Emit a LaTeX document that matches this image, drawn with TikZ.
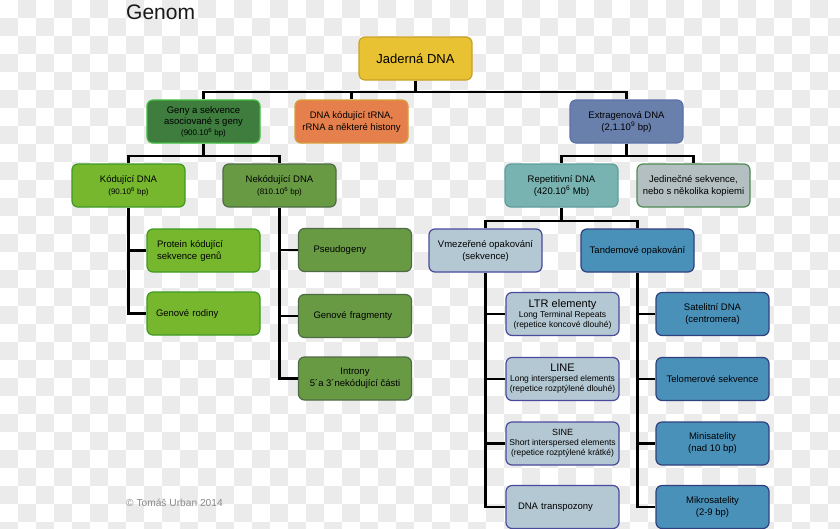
\documentclass[tikz,border=0pt]{standalone}
\usepackage{fontspec}
\setmainfont{Liberation Sans}
\definecolor{ckgray}{HTML}{EBEBEB}
\definecolor{jadF}{HTML}{E8C232}\definecolor{jadD}{HTML}{C9A12A}
\definecolor{genyF}{HTML}{3F7D3F}\definecolor{genyD}{HTML}{40BD40}
\definecolor{trnaF}{HTML}{E5804D}\definecolor{trnaD}{HTML}{D4A03A}
\definecolor{extF}{HTML}{6A80AC}\definecolor{extD}{HTML}{5B72A8}
\definecolor{kodF}{HTML}{77B72E}\definecolor{kodD}{HTML}{3D9A22}
\definecolor{nekF}{HTML}{689A44}\definecolor{nekD}{HTML}{4F6B45}
\definecolor{repF}{HTML}{79B3B1}\definecolor{repD}{HTML}{5E9E9C}
\definecolor{jedF}{HTML}{B3BFC0}\definecolor{jedD}{HTML}{4F8A52}
\definecolor{vmzF}{HTML}{B4C8D3}\definecolor{vmzD}{HTML}{4A4A9C}
\definecolor{tanF}{HTML}{4A91BA}\definecolor{tanD}{HTML}{30407F}
\definecolor{copyGray}{HTML}{8A8A8A}
\begin{document}
\begin{tikzpicture}[x=1pt,y=-1pt,
  box/.style={draw, rounded corners=6pt, minimum width=113pt, minimum height=43pt,
    inner sep=0pt, line width=1.2pt, align=center, text=black,
    font=\fontsize{9.5}{12}\selectfont},
  gbox/.style={box, fill=genyF, draw=genyD},
  kbox/.style={box, fill=kodF, draw=kodD},
  nbox/.style={box, fill=nekF, draw=nekD},
  vbox/.style={box, fill=vmzF, draw=vmzD},
  tbox/.style={box, fill=tanF, draw=tanD},
  subtxt/.style={font=\fontsize{8.5}{10}\selectfont},
  conn/.style={line width=2.2pt, black, line join=miter},
]
\useasboundingbox (0,0) rectangle (840,528);
\begin{scope}
\clip (0,0) rectangle (840,528);
\fill[white] (0,0) rectangle (840,528);
\foreach \i in {0,...,46}{\foreach \j in {0,...,29}{\ifodd\numexpr\i+\j\relax \fill[ckgray] (\i*18,\j*18) rectangle ++(18,18);\fi}}
\end{scope}

\node[anchor=base west, inner sep=0pt, font=\fontsize{21}{25}\selectfont, text=black!90] (title) at (126,19.5) {Genom};
\node[anchor=base west, inner sep=0pt, font=\fontsize{10.2}{12}\selectfont, text=copyGray] (copy) at (126,506.5) {© Tomáš Urban 2014};

% level 0
\node[box, fill=jadF, draw=jadD, font=\fontsize{13}{15}\selectfont] (jad) at (415.5,58.5) {Jaderná DNA};
% level 1
\node[gbox, font=\fontsize{9.5}{11}\selectfont] (geny) at (203.5,121.5) {Geny a sekvence\\asociované s geny\\{\fontsize{8}{10}\selectfont (900.10\textsuperscript{6} bp)}};
\node[box, fill=trnaF, draw=trnaD] (trna) at (351.5,121.5) {DNA kódující tRNA,\\rRNA a některé histony};
\node[box, fill=extF, draw=extD] (extra) at (626.5,121.5) {Extragenová DNA\\(2,1.10\textsuperscript{9} bp)};
% level 2
\node[kbox] (kod) at (128.5,185.5) {Kódující DNA\\{\fontsize{8}{10}\selectfont (90.10\textsuperscript{6} bp)}};
\node[nbox] (nekod) at (279.5,185.5) {Nekódující DNA\\{\fontsize{8}{10}\selectfont (810.10\textsuperscript{6} bp)}};
\node[box, fill=repF, draw=repD] (rep) at (561.5,185.5) {Repetitivní DNA\\(420.10\textsuperscript{6} Mb)};
\node[box, fill=jedF, draw=jedD] (jed) at (693.5,185.5) {Jedinečné sekvence,\\nebo s několika kopiemi};
% green leaves
\node[kbox, align=left, inner xsep=10pt, text width=93pt] (prot) at (203.5,250.5) {Protein kódující\\sekvence genů};
\node[kbox, align=left, inner xsep=9pt, text width=95pt] (rod) at (203.5,313.5) {Genové rodiny};
\node[nbox, align=left, inner xsep=15pt, text width=83pt] (pseudo) at (355,250) {Pseudogeny};
\node[nbox, align=left, inner xsep=15pt, text width=83pt] (frag) at (355,316) {Genové fragmenty};
\node[nbox] (intr) at (355,378.5) {Introny\\5´a 3´nekódující části};
% repetitive
\node[vbox] (vmez) at (485.5,250.5) {Vmezeřené opakování\\(sekvence)};
\node[tbox] (tand) at (637.5,250.5) {Tandemové opakování};
\node[vbox, subtxt] (ltr) at (562.5,314) {{\fontsize{11}{12}\selectfont LTR elementy}\\Long Terminal Repeats\\(repetice koncové dlouhé)};
\node[vbox, subtxt] (line) at (562.5,379) {{\fontsize{11}{12}\selectfont LINE}\\Long interspersed elements\\(repetice rozptýlené dlouhé)};
\node[vbox, subtxt] (sine) at (562.5,443.5) {{\fontsize{9}{11}\selectfont SINE}\\Short interspersed elements\\(repetice rozptýlené krátké)};
\node[vbox, align=left, inner xsep=12pt, text width=89pt] (tran) at (562.5,507) {DNA transpozony};
\node[tbox] (sat) at (712.5,314) {Satelitní DNA\\(centromera)};
\node[tbox] (telo) at (712.5,379) {Telomerové sekvence};
\node[tbox] (mini) at (712.5,443.5) {Minisatelity\\(nad 10 bp)};
\node[tbox] (mikro) at (712.5,507) {Mikrosatelity\\(2-9 bp)};

% connectors
\coordinate (b0) at ([yshift=-11pt]jad.south);
\draw[conn] (jad.south) -- (b0);
\draw[conn] (geny.north) |- (b0) -| (extra.north);
\draw[conn] (trna.north) -- (trna.north |- b0);

\coordinate (b1) at ([yshift=-12pt]geny.south);
\draw[conn] (geny.south) -- (b1);
\draw[conn] (kod.north) |- (b1) -| (nekod.north);
\draw[conn] (kod.south) |- (rod.west);
\draw[conn] (kod.south |- prot.west) -- (prot.west);
\draw[conn] (nekod.south) |- (intr.west);
\draw[conn] (nekod.south |- pseudo.west) -- (pseudo.west);
\draw[conn] (nekod.south |- frag.west) -- (frag.west);

\coordinate (b2) at ([yshift=-12pt]extra.south);
\draw[conn] (extra.south) -- (b2);
\draw[conn] (rep.north) |- (b2) -| (jed.north);

\coordinate (b3) at ([yshift=-13pt]rep.south);
\draw[conn] (rep.south) -- (b3);
\draw[conn] (vmez.north) |- (b3) -| (tand.north);
\draw[conn] (vmez.south) |- (tran.west);
\draw[conn] (vmez.south |- ltr.west) -- (ltr.west);
\draw[conn] (vmez.south |- line.west) -- (line.west);
\draw[conn] (vmez.south |- sine.west) -- (sine.west);
\draw[conn] (tand.south) |- (mikro.west);
\draw[conn] (tand.south |- sat.west) -- (sat.west);
\draw[conn] (tand.south |- telo.west) -- (telo.west);
\draw[conn] (tand.south |- mini.west) -- (mini.west);
\end{tikzpicture}
\end{document}
